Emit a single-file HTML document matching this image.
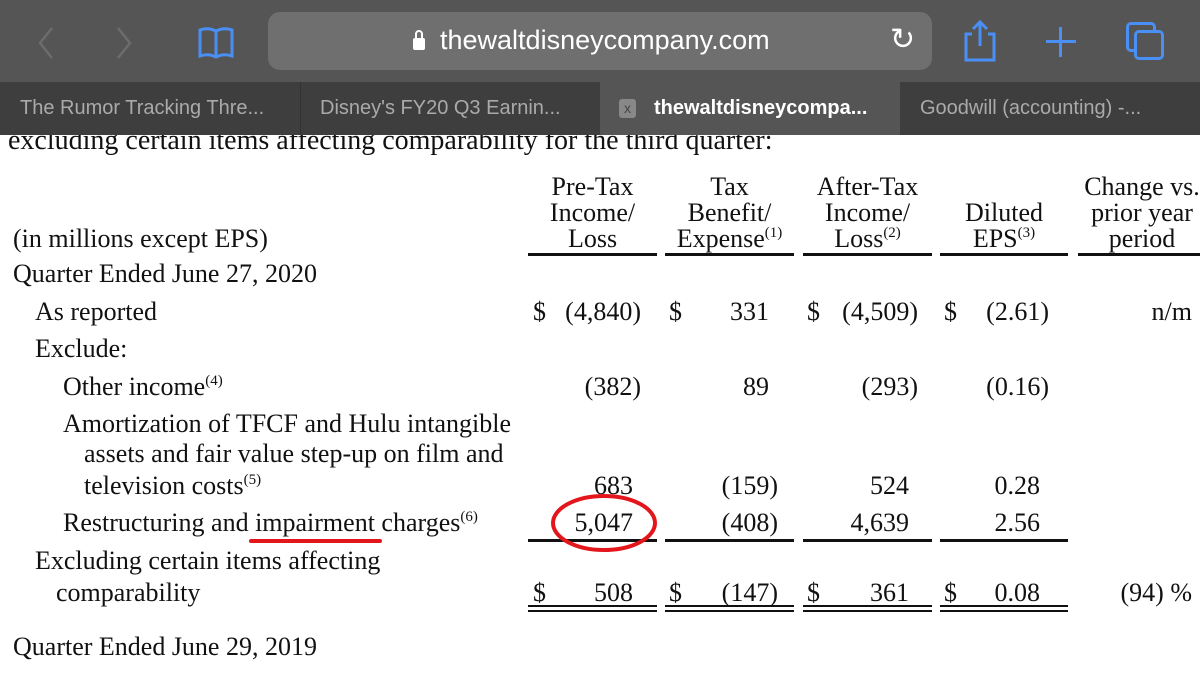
<!DOCTYPE html>
<html><head><meta charset="utf-8"><style>
*{margin:0;padding:0;box-sizing:border-box}
body{width:1200px;height:675px;overflow:hidden;background:#fff;position:relative;font-family:"Liberation Serif",serif;color:#111}
.t{position:absolute;font-size:26px;line-height:26px;white-space:nowrap}
.r{text-align:right}
.c{text-align:center}
sup{font-size:15px;vertical-align:10px;line-height:0}
.ln{position:absolute;height:3px;background:#111}
.s{position:absolute;font-family:"Liberation Sans",sans-serif;white-space:nowrap}
</style></head><body>
<div class="t" style="left:8px;top:127px;font-size:28px;line-height:28px">excluding certain items affecting comparability for the third quarter:</div>
<div style="position:absolute;left:0;top:0;width:1200px;height:82px;background:#555"></div>
<div style="position:absolute;left:268px;top:12px;width:664px;height:58px;border-radius:12px;background:#6f6f6f"></div>
<svg style="position:absolute;left:36px;top:26px" width="100" height="34"><path d="M16 2L4 17L16 32" fill="none" stroke="#6c6c6c" stroke-width="2.5"/><path d="M82 2L94 17L82 32" fill="none" stroke="#6c6c6c" stroke-width="2.5"/></svg>
<svg style="position:absolute;left:196px;top:26px" width="42" height="34"><path d="M4 4 Q12 1 20 5 Q28 1 36 4 V30 Q28 27 20 31 Q12 27 4 30Z M20 5V31" fill="none" stroke="#4a8ff5" stroke-width="3"/></svg>
<div style="position:absolute;left:413px;top:38px;width:12px;height:12px;background:#fff;border-radius:2px"></div>
<div style="position:absolute;left:415px;top:30px;width:8px;height:12px;border:2px solid #fff;border-radius:4px 4px 0 0"></div>
<div class="s" style="left:440px;top:25px;font-size:27px;color:#fff">thewaltdisneycompany.com</div>
<div class="s" style="left:890px;top:22px;font-size:30px;color:#fff">&#8635;</div>
<svg style="position:absolute;left:960px;top:18px" width="40" height="44"><path d="M12 16H6V42H34V16H28M20 4V28M13 11L20 4L27 11" fill="none" stroke="#4a8ff5" stroke-width="3"/></svg>
<div style="position:absolute;left:1046px;top:40px;width:30px;height:3px;background:#4a8ff5"></div>
<div style="position:absolute;left:1059px;top:27px;width:3px;height:30px;background:#4a8ff5"></div>
<div style="position:absolute;left:1126px;top:22px;width:30px;height:30px;border:3px solid #4a8ff5;border-radius:5px"></div>
<div style="position:absolute;left:1134px;top:30px;width:30px;height:30px;border:3px solid #4a8ff5;border-radius:5px;background:#555"></div>
<div style="position:absolute;left:0;top:82px;width:1200px;height:53px;background:#3e3e3e"></div>
<div style="position:absolute;left:300px;top:82px;width:1px;height:53px;background:#333"></div>
<div style="position:absolute;left:600px;top:82px;width:300px;height:53px;background:#555"></div>
<div class="s" style="left:20px;top:97px;font-size:20px;color:#aaa">The Rumor Tracking Thre...</div>
<div class="s" style="left:320px;top:97px;font-size:20px;color:#aaa">Disney's FY20 Q3 Earnin...</div>
<div style="position:absolute;left:619px;top:99px;width:17px;height:19px;background:#888;border-radius:3px;color:#444;font:14px 'Liberation Sans';text-align:center;line-height:19px">x</div>
<div class="s" style="left:654px;top:97px;font-size:20px;color:#fff;font-weight:bold">thewaltdisneycompa...</div>
<div class="s" style="left:920px;top:97px;font-size:20px;color:#aaa">Goodwill (accounting) -...</div>

<div class="t c" style="left:528px;top:174px;width:129px">Pre-Tax</div>
<div class="t c" style="left:528px;top:200px;width:129px">Income/</div>
<div class="t c" style="left:528px;top:226px;width:129px">Loss</div>
<div class="t c" style="left:665px;top:174px;width:129px">Tax</div>
<div class="t c" style="left:665px;top:200px;width:129px">Benefit/</div>
<div class="t c" style="left:665px;top:226px;width:129px">Expense<sup>(1)</sup></div>
<div class="t c" style="left:803px;top:174px;width:129px">After-Tax</div>
<div class="t c" style="left:803px;top:200px;width:129px">Income/</div>
<div class="t c" style="left:803px;top:226px;width:129px">Loss<sup>(2)</sup></div>
<div class="t c" style="left:940px;top:200px;width:128px">Diluted</div>
<div class="t c" style="left:940px;top:226px;width:128px">EPS<sup>(3)</sup></div>
<div class="t c" style="left:1078px;top:174px;width:128px">Change vs.</div>
<div class="t c" style="left:1078px;top:200px;width:128px">prior year</div>
<div class="t c" style="left:1078px;top:226px;width:128px">period</div>
<div class="ln" style="left:528px;top:253px;width:129px"></div>
<div class="ln" style="left:665px;top:253px;width:129px"></div>
<div class="ln" style="left:803px;top:253px;width:129px"></div>
<div class="ln" style="left:940px;top:253px;width:128px"></div>
<div class="ln" style="left:1078px;top:253px;width:122px"></div>

<div class="t" style="left:13px;top:226px">(in millions except EPS)</div>
<div class="t" style="left:13px;top:261px">Quarter Ended June 27, 2020</div>
<div class="t" style="left:35px;top:299px">As reported</div>
<div class="t" style="left:35px;top:336px">Exclude:</div>
<div class="t" style="left:63px;top:374px">Other income<sup>(4)</sup></div>
<div class="t" style="left:63px;top:411px">Amortization of TFCF and Hulu intangible</div>
<div class="t" style="left:84px;top:441px">assets and fair value step-up on film and</div>
<div class="t" style="left:84px;top:473px">television costs<sup>(5)</sup></div>
<div class="t" style="left:63px;top:510px">Restructuring and impairment charges<sup>(6)</sup></div>
<div class="t" style="left:35px;top:548px">Excluding certain items affecting</div>
<div class="t" style="left:56px;top:580px">comparability</div>
<div class="t" style="left:13px;top:634px">Quarter Ended June 29, 2019</div>

<div class="t" style="left:533px;top:299px">$</div><div class="t r" style="left:528px;top:299px;width:113px">(4,840)</div>
<div class="t" style="left:669px;top:299px">$</div><div class="t r" style="left:665px;top:299px;width:104px">331</div>
<div class="t" style="left:807px;top:299px">$</div><div class="t r" style="left:803px;top:299px;width:115px">(4,509)</div>
<div class="t" style="left:944px;top:299px">$</div><div class="t r" style="left:940px;top:299px;width:109px">(2.61)</div>
<div class="t r" style="left:1078px;top:299px;width:114px">n/m</div>
<div class="t r" style="left:528px;top:374px;width:113px">(382)</div>
<div class="t r" style="left:665px;top:374px;width:104px">89</div>
<div class="t r" style="left:803px;top:374px;width:115px">(293)</div>
<div class="t r" style="left:940px;top:374px;width:109px">(0.16)</div>
<div class="t r" style="left:528px;top:473px;width:105px">683</div>
<div class="t r" style="left:665px;top:473px;width:113px">(159)</div>
<div class="t r" style="left:803px;top:473px;width:106px">524</div>
<div class="t r" style="left:940px;top:473px;width:100px">0.28</div>
<div class="t r" style="left:528px;top:510px;width:105px">5,047</div>
<div class="t r" style="left:665px;top:510px;width:113px">(408)</div>
<div class="t r" style="left:803px;top:510px;width:106px">4,639</div>
<div class="t r" style="left:940px;top:510px;width:100px">2.56</div>
<div class="ln" style="left:528px;top:539px;width:129px"></div>
<div class="ln" style="left:665px;top:539px;width:129px"></div>
<div class="ln" style="left:803px;top:539px;width:129px"></div>
<div class="ln" style="left:940px;top:539px;width:128px"></div>
<div class="t" style="left:533px;top:580px">$</div><div class="t r" style="left:528px;top:580px;width:105px">508</div>
<div class="t" style="left:669px;top:580px">$</div><div class="t r" style="left:665px;top:580px;width:113px">(147)</div>
<div class="t" style="left:807px;top:580px">$</div><div class="t r" style="left:803px;top:580px;width:106px">361</div>
<div class="t" style="left:944px;top:580px">$</div><div class="t r" style="left:940px;top:580px;width:100px">0.08</div>
<div class="t r" style="left:1078px;top:580px;width:114px">(94) %</div>
<div class="ln" style="left:528px;top:605px;width:129px;height:2px"></div><div class="ln" style="left:528px;top:610px;width:129px;height:2px"></div>
<div class="ln" style="left:665px;top:605px;width:129px;height:2px"></div><div class="ln" style="left:665px;top:610px;width:129px;height:2px"></div>
<div class="ln" style="left:803px;top:605px;width:129px;height:2px"></div><div class="ln" style="left:803px;top:610px;width:129px;height:2px"></div>
<div class="ln" style="left:940px;top:605px;width:128px;height:2px"></div><div class="ln" style="left:940px;top:610px;width:128px;height:2px"></div>

<svg style="position:absolute;left:0;top:0" width="1200" height="675">
<ellipse cx="604" cy="523" rx="51" ry="27" fill="none" stroke="#e3161c" stroke-width="4"/>
<line x1="251" y1="541" x2="380" y2="541" stroke="#e3161c" stroke-width="4" stroke-linecap="round"/>
</svg>
</body></html>
